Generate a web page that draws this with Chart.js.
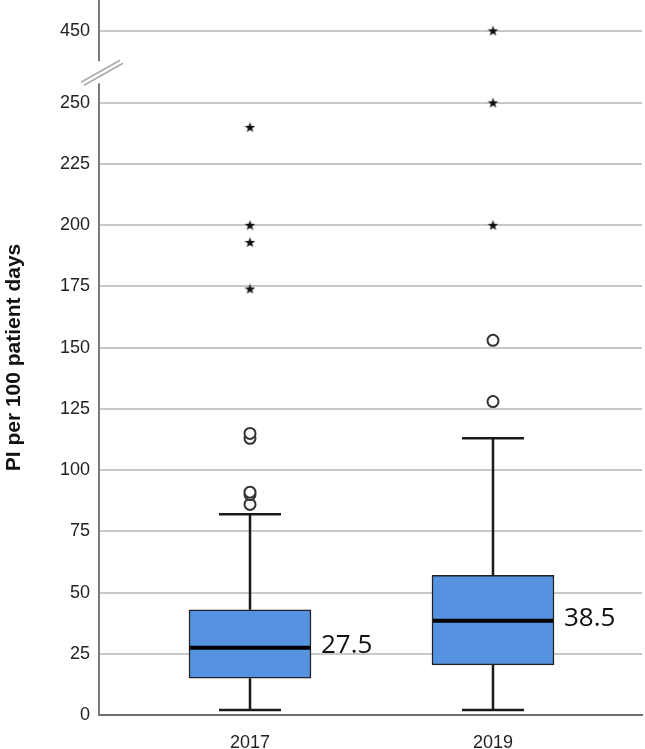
<!DOCTYPE html>
<html>
<head>
<meta charset="utf-8">
<script src="https://cdn.jsdelivr.net/npm/chart.js@4.4.1/dist/chart.umd.min.js"></script>
<style>
  html, body { margin: 0; padding: 0; background: #fff; }
  #wrap { width: 645px; height: 749px; }
</style>
</head>
<body>
<div id="wrap"><canvas id="grafico" width="645" height="749"></canvas></div>
<script>
// Datos
const categorias = ['2017', '2019'];
const bigoteInferior = [2, 2];
const cuartil1 = [15, 20.5];
const mediana = [27.5, 38.5];
const cuartil3 = [43, 57];
const bigoteSuperior = [82, 113];
const atipicos2017 = [86, 90, 91, 113, 115];
const atipicos2019 = [128, 153];
const extremos2017 = [174, 193, 200, 240];
const extremos2019 = [200, 250, 450];
const ticksY = [0, 25, 50, 75, 100, 125, 150, 175, 200, 225, 250, 450];

// Eje cortado: por encima de 250 los valores se desplazan hacia abajo
const corte = 250;
const desplazamiento = 170.6;
const corteBajo = 258;
const corteAlto = 267;
function aEje(v) {
    return v <= corte ? v : v - desplazamiento;
}

// Estrella rellena para los valores extremos
const estrella = document.createElement('canvas');
estrella.width = 11;
estrella.height = 11;
(function() {
    const c = estrella.getContext('2d');
    c.fillStyle = '#111';
    c.beginPath();
    for (let i = 0; i < 10; i++) {
        const r = i % 2 === 0 ? 5.5 : 2.3;
        const a = -Math.PI / 2 + i * Math.PI / 5;
        const px = 5.5 + r * Math.cos(a);
        const py = 5.8 + r * Math.sin(a);
        if (i === 0) c.moveTo(px, py); else c.lineTo(px, py);
    }
    c.closePath();
    c.fill();
})();

function puntos(x, valores) {
    return valores.map(v => ({ x: x, y: aEje(v) }));
}

// Bigotes, medianas, etiquetas y marca de corte
const cajaPlugin = {
    id: 'cajas',
    afterDatasetsDraw(chart) {
        const ctx = chart.ctx;
        const sx = chart.scales.x;
        const sy = chart.scales.y;
        const mitad = 61;
        ctx.save();
        categorias.forEach((cat, i) => {
            const cx = sx.getPixelForValue(i + 1);
            const yLo = sy.getPixelForValue(bigoteInferior[i]);
            const yHi = sy.getPixelForValue(bigoteSuperior[i]);
            const yQ1 = sy.getPixelForValue(cuartil1[i]);
            const yQ3 = sy.getPixelForValue(cuartil3[i]);
            const yMed = sy.getPixelForValue(mediana[i]);

            ctx.strokeStyle = '#1a1a1a';
            ctx.lineWidth = 2.5;
            ctx.beginPath();
            ctx.moveTo(cx, yQ3); ctx.lineTo(cx, yHi);
            ctx.moveTo(cx, yQ1); ctx.lineTo(cx, yLo);
            ctx.moveTo(cx - 31, yHi); ctx.lineTo(cx + 31, yHi);
            ctx.moveTo(cx - 31, yLo); ctx.lineTo(cx + 31, yLo);
            ctx.stroke();

            ctx.lineWidth = 4;
            ctx.strokeStyle = '#000';
            ctx.beginPath();
            ctx.moveTo(cx - mitad + 1, yMed); ctx.lineTo(cx + mitad - 1, yMed);
            ctx.stroke();

            ctx.fillStyle = '#111';
            ctx.font = '26px "Open Sans"';
            ctx.textBaseline = 'middle';
            ctx.textAlign = 'left';
            ctx.fillText(mediana[i].toFixed(1), cx + mitad + 10, yMed - 2);
        });

        // Marca de corte del eje
        const ax = sx.left;
        const yA = sy.getPixelForValue(corteAlto);
        const yB = sy.getPixelForValue(corteBajo);
        ctx.fillStyle = '#fff';
        ctx.fillRect(ax - 3, yA, 6, yB - yA);
        const cy = (yA + yB) / 2;
        ctx.strokeStyle = '#aaa';
        ctx.lineWidth = 1.5;
        ctx.beginPath();
        ctx.moveTo(ax - 18, cy + 10); ctx.lineTo(ax + 21, cy - 12);
        ctx.moveTo(ax - 15, cy + 13); ctx.lineTo(ax + 24, cy - 9);
        ctx.stroke();
        ctx.restore();
    }
};

const ctx = document.getElementById('grafico').getContext('2d');

new Chart(ctx, {
    type: 'bar',
    data: {
        datasets: [
            {
                type: 'bar',
                data: categorias.map((c, i) => ({ x: i + 1, y: [cuartil1[i], cuartil3[i]] })),
                backgroundColor: '#5592e0',
                borderColor: '#222',
                borderWidth: 1.5,
                borderSkipped: false,
                barThickness: 122
            },
            {
                type: 'scatter',
                data: puntos(1, atipicos2017).concat(puntos(2, atipicos2019)),
                pointStyle: 'circle',
                pointRadius: 5.5,
                borderWidth: 2,
                borderColor: '#333',
                backgroundColor: '#fff'
            },
            {
                type: 'scatter',
                data: puntos(1, extremos2017).concat(puntos(2, extremos2019)),
                pointStyle: estrella,
                pointRadius: 5
            }
        ]
    },
    options: {
        responsive: false,
        animation: false,
        layout: { autoPadding: false, padding: { left: 0, right: 3, top: 0, bottom: 0 } },
        plugins: {
            legend: { display: false },
            tooltip: { enabled: false }
        },
        scales: {
            x: {
                type: 'linear',
                offset: false,
                min: 0.3786,
                max: 2.6132,
                afterBuildTicks: scale => { scale.ticks = categorias.map((c, i) => ({ value: i + 1 })); },
                afterFit: scale => {
                    scale.height = 34;
                    scale.paddingLeft = 0;
                    scale.paddingRight = 0;
                },
                ticks: {
                    callback: (v, i) => categorias[i],
                    color: '#222',
                    font: { family: '"Liberation Sans", Arial', size: 18 },
                    padding: 17,
                    maxRotation: 0
                },
                grid: { display: false, drawTicks: false },
                border: { display: true, color: '#6e6e6e', width: 2 }
            },
            y: {
                type: 'linear',
                min: 0,
                max: 292,
                afterBuildTicks: scale => { scale.ticks = ticksY.map(v => ({ value: aEje(v) })); },
                afterFit: scale => {
                    scale.width = 99;
                    scale.paddingTop = 0;
                    scale.paddingBottom = 0;
                },
                ticks: {
                    callback: (v, i) => String(ticksY[i]),
                    color: '#222',
                    font: { family: '"Liberation Sans", Arial', size: 18 },
                    padding: 9
                },
                grid: { color: '#c8c8c8', lineWidth: 2, drawTicks: false },
                border: { display: true, color: '#7a7a7a', width: 2 },
                title: {
                    display: true,
                    text: 'PI per 100 patient days',
                    color: '#111',
                    font: { family: '"Liberation Sans", Arial', size: 21, weight: 'bold' },
                    padding: { top: 2, bottom: 0 }
                }
            }
        }
    },
    plugins: [cajaPlugin]
});
</script>
</body>
</html>
